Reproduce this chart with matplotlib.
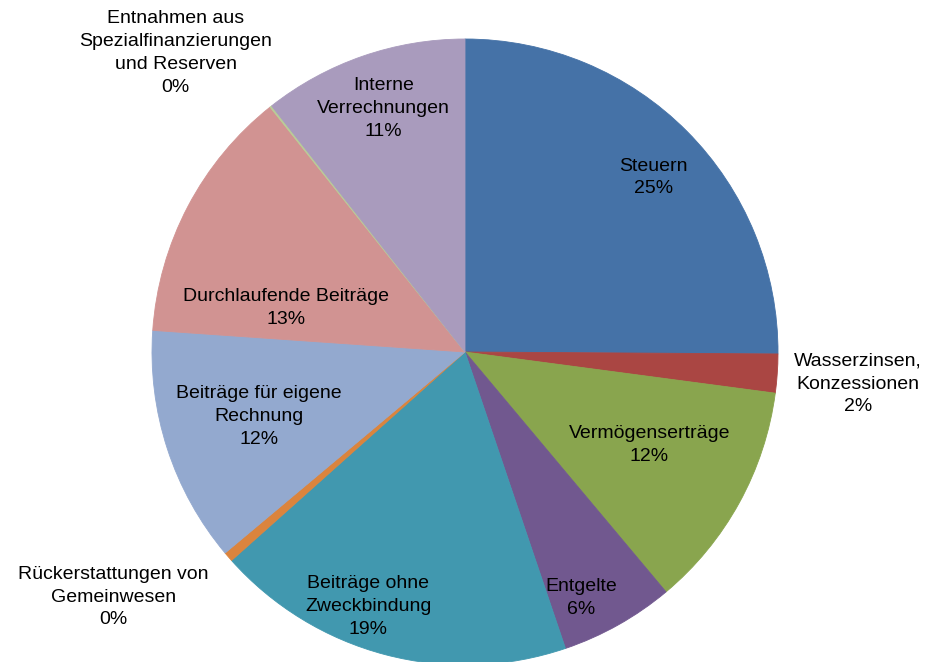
import numpy as np
import matplotlib
matplotlib.use('Agg')
from matplotlib import pyplot as plt

labels = ['Steuern', 'Wasserzinsen,\nKonzessionen', 'Vermögenserträge', 'Entgelte',
          'Beiträge ohne\nZweckbindung', 'Rückerstattungen von\nGemeinwesen',
          'Beiträge für eigene\nRechnung', 'Durchlaufende Beiträge',
          'Entnahmen aus\nSpezialfinanzierungen\nund Reserven', 'Interne\nVerrechnungen']
shares = [25.1, 2.0, 11.8, 5.9, 18.6, 0.5, 12.2, 13.2, 0.1, 10.6]
colors = ['#4572A7', '#AA4643', '#89A54E', '#71588F', '#4198AF', '#DB843D',
          '#93A9CF', '#D19392', '#B9CD96', '#A99BBD']

# label placement: distance (in radii) and angle nudge (deg)
label_r = [0.82, 1.26, 0.66, 0.87, 0.87, 1.37, 0.69, 0.59, 1.33, 0.82]
label_da = [-2, -0.7, 2, -4, -6, -6, -0.6, 14, 5.7, -0.5]

W, H = 931, 662
cx, cy, R = 465, H - 352, 313

fig = plt.figure(figsize=(W / 100, H / 100), dpi=100)
ax = fig.add_axes([0, 0, 1, 1])

wedges, _ = ax.pie(shares, colors=colors, startangle=90, counterclock=False,
                   center=(cx, cy), radius=R, frame=True)
for w in wedges:
    # hide the anti-aliasing seams between slices
    w.set_edgecolor(w.get_facecolor())
    w.set_linewidth(0.6)
ax.set_xlim(0, W)
ax.set_ylim(0, H)
ax.set_aspect('equal')
ax.axis('off')

total = sum(shares)
for w, lab, v, lr, da in zip(wedges, labels, shares, label_r, label_da):
    mid = np.deg2rad((w.theta1 + w.theta2) / 2 + da)
    x = cx + lr * R * np.cos(mid)
    y = cy + lr * R * np.sin(mid)
    pct = '%d%%' % round(v / total * 100)
    ax.text(x, y, lab + '\n' + pct, ha='center', va='center', fontsize=14,
            family='Liberation Sans', linespacing=1.45)

fig.savefig('out.png', dpi=100)
